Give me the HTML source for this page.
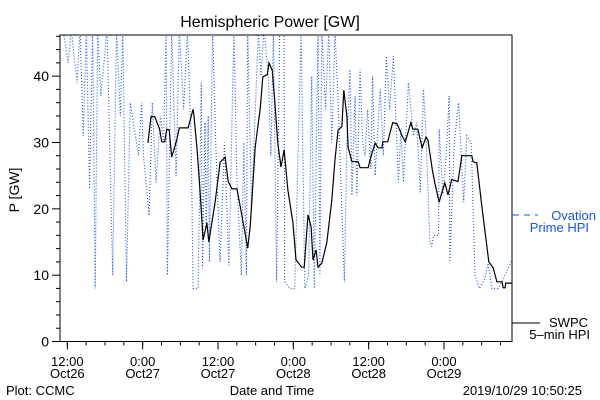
<!DOCTYPE html>
<html><head><meta charset="utf-8"><style>
html,body{margin:0;padding:0;background:#fff;}
svg{display:block;font-family:"Liberation Sans",sans-serif;}
</style></head><body>
<svg id="chart" width="600" height="400" viewBox="0 0 600 400">
<rect width="600" height="400" fill="#fff"/>
<text x="270" y="27" font-size="16" text-anchor="middle">Hemispheric Power [GW]</text>
<text transform="translate(19,190) rotate(-90)" font-size="14" text-anchor="middle">P [GW]</text>
<g id="axes"></g>
<g id="series"></g>
<g>
<line x1="513" y1="215" x2="538" y2="215" stroke="#1a55f0" stroke-width="1" stroke-dasharray="6 5"/>
<text x="596" y="220" font-size="13" fill="#1a55f0" text-anchor="end">Ovation</text>
<text x="589" y="232" font-size="13" fill="#1a55f0" text-anchor="end">Prime HPI</text>
<line x1="512" y1="323" x2="540" y2="323" stroke="#000" stroke-width="1"/>
<text x="588" y="327" font-size="13" text-anchor="end">SWPC</text>
<text x="590" y="339" font-size="13" text-anchor="end">5–min HPI</text>
</g>
<text x="6" y="395" font-size="13">Plot: CCMC</text>
<text x="272" y="395" font-size="13" text-anchor="middle">Date and Time</text>
<text x="582" y="395" font-size="13" text-anchor="end">2019/10/29 10:50:25</text>
</svg>
<script>
// hours since 2019-10-26 10:50 UT
const swpcHours=[14.0,14.5,15.1,15.9,16.2,16.7,17.0,17.4,17.8,18.6,19.0,20.4,21.2,21.3,21.8,22.3,22.8,23.4,23.7,24.7,25.5,26.3,26.8,27.4,28.2,29.0,29.9,30.3,31.1,31.9,32.3,33.0,33.3,33.8,34.2,34.7,35.2,35.7,36.3,37.1,37.6,38.5,38.9,39.5,40.0,40.3,40.8,41.1,41.7,42.5,43.3,43.8,44.3,44.9,45.2,45.7,45.9,46.5,47.5,47.8,49.1,49.4,50.2,50.7,51.3,51.4,52.2,53.0,53.7,54.5,55.0,55.9,56.2,57.0,57.7,58.3,58.6,59.3,59.7,60.4,60.8,61.3,61.8,62.4,63.4,64.0,65.6,65.8,66.4,67.2,68.0,68.3,69.0,69.6,70.4,70.6,70.9,71.0,72.0];
const swpcValues=[29.9,33.9,33.9,31.9,30.1,30.1,32.0,31.9,27.8,30.4,32.2,32.2,35.0,34.4,29.3,22.8,15.3,17.9,15.0,21.0,27.0,27.8,24.1,23.0,23.0,18.8,14.1,17.3,29.3,35.2,39.9,40.2,42.0,40.9,36.4,29.9,26.3,28.9,22.8,17.9,12.3,11.2,11.2,19.1,17.3,12.3,13.8,11.2,11.8,14.9,21.3,27.4,31.9,32.4,37.9,33.9,29.3,27.1,27.1,26.2,26.2,27.4,29.9,29.2,29.2,30.1,30.1,33.0,32.8,31.0,30.1,33.0,32.0,32.0,29.2,30.8,30.4,25.9,23.9,21.0,22.4,23.9,22.1,24.4,24.1,28.0,28.0,27.1,26.9,20.3,14.3,12.0,11.1,9.0,9.0,8.1,8.1,8.8,8.8];
const ovationHours=[0,0.5,1.3,1.8,2.7,3.2,3.7,4.2,4.7,5.2,5.6,6.0,6.5,7.5,8.4,9.0,9.6,10.0,10.6,11.2,12.5,13.0,13.3,14.2,14.7,15.3,16.0,16.5,16.9,17.1,17.8,18.5,19.0,19.7,20.3,20.9,21.2,22.0,22.5,22.7,23.1,23.3,23.6,23.8,24.3,24.8,25.5,26.2,26.9,27.7,28.2,28.9,29.3,29.7,29.9,30.5,31.6,32.0,32.5,33.2,33.6,34.0,34.5,35.0,35.7,35.8,36.6,37.4,38.4,39.0,39.6,40.1,40.5,41.1,41.4,41.7,42.3,42.8,43.3,43.8,44.3,45.3,45.7,46.2,46.5,47.0,47.3,47.8,48.2,48.6,49.0,49.5,49.8,50.2,51.0,51.5,52.0,52.5,53.1,53.9,54.3,54.7,55.5,56.3,56.8,57.4,57.9,58.3,58.9,59.2,59.5,60.3,60.4,61.0,61.5,62.0,62.1,62.8,63.5,64.3,64.8,65.5,66.1,66.8,67.7,68.2,68.8,69.8,70.4,70.9,72];
const ovationValues=[47,47,42,47,39,47,31,47,23,47,8,47,37,47,10,47,34,47,9,36,28,36,28,19,36,24,34,30,47,10,47,25,47,35,47,30,8,8,39,11,33,17,34,12,47,30,12,30,11.5,47,24,10,30,10,47,20,47,40,47,40,28,47,9,47,47,9,8,8,47,8,10,40,8,47,10,47,35,47,30,47,36,9,30,41,22,37,22,41,30,28,35,26,40,25,38,28,43,35,43,24,32,24,39,31,33,22.5,38,31,15.3,14.3,16,16,32,22,28,37,12,30,36,21,31,30,10,8,9.5,11.8,8,8,9,10,12.3];
const yTicks=[0,10,20,30,40];
const xTickHours=[1.1667,13.1667,25.1667,37.1667,49.1667,61.1667];
const xTickTop=["12:00","0:00","12:00","0:00","12:00","0:00"];
const xTickBottom=["Oct26","Oct27","Oct27","Oct28","Oct28","Oct29"];

const L=60,R=512,T=35,B=341.5,H0=0,H1=72,VMAX=46.2;
const NS="http://www.w3.org/2000/svg";
function xs(h){return L+(h-H0)/(H1-H0)*(R-L);}
function ys(v){return B-v/VMAX*(B-T);}
function mk(tag,attrs,parent){const e=document.createElementNS(NS,tag);for(const k in attrs)e.setAttribute(k,attrs[k]);parent.appendChild(e);return e;}
const axes=document.getElementById('axes'),series=document.getElementById('series');
const defs=mk('defs',{},axes);
const cp=mk('clipPath',{id:'plotclip'},defs);
mk('rect',{x:L,y:T,width:R-L,height:B-T},cp);
const frame=mk('rect',{x:L,y:T,width:R-L,height:B-T,fill:'none',stroke:'#000','stroke-width':1},axes);


// y minor ticks
for(let v=0;v<=46;v+=2){
  const t=mk('line',{x1:L,x2:L-(v%10===0?8:4),y1:ys(v),y2:ys(v),stroke:'#000'},axes);
  
  
}
yTicks.forEach(v=>{
  const t=mk('text',{x:L-11,y:ys(v)+5,'font-size':14,'text-anchor':'end'},axes);
  t.textContent=String(v);
  
  
});
// x ticks: minor every 3h
for(let h=xTickHours[0]-3;h<=H1;h+=3){
  if(h<H0)continue;
  const t=mk('line',{x1:xs(h),x2:xs(h),y1:B,y2:B+4,stroke:'#000'},axes);
  
  
}
xTickHours.forEach((h,i)=>{
  const t=mk('line',{x1:xs(h),x2:xs(h),y1:B,y2:B+8,stroke:'#000'},axes);
  
  
  const a=mk('text',{x:xs(h),y:366,'font-size':13,'text-anchor':'middle'},axes);
  a.textContent=xTickTop[i];
  
  
  const b=mk('text',{x:xs(h),y:378,'font-size':13,'text-anchor':'middle'},axes);
  b.textContent=xTickBottom[i];
  
  
});
// right-axis legend ticks
const rt1=mk('line',{x1:R,x2:R+4,y1:215,y2:215,stroke:'#1a55f0'},axes);


function pts(hs,vs){return hs.map((h,i)=>xs(h).toFixed(1)+','+ys(vs[i]).toFixed(1)).join(' ');}
const ov=mk('polyline',{points:pts(ovationHours,ovationValues),fill:'none',stroke:'#1a55f0','stroke-width':1.1,'stroke-dasharray':'1 2','clip-path':'url(#plotclip)'},series);


const sw=mk('polyline',{points:pts(swpcHours,swpcValues),fill:'none',stroke:'#000','stroke-width':1.2,'clip-path':'url(#plotclip)'},series);


</script>
</body></html>
